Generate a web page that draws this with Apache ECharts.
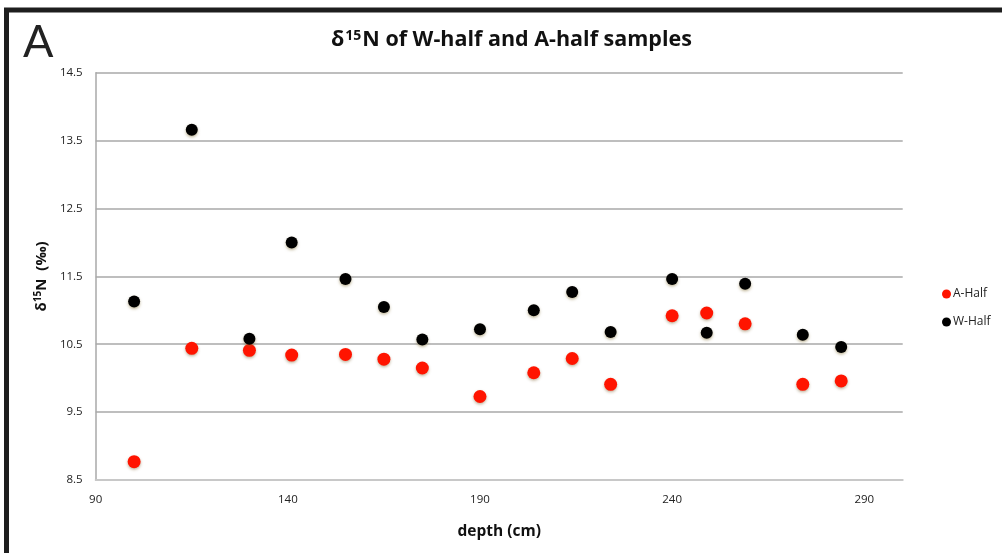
<!DOCTYPE html>
<html>
<head>
<meta charset="utf-8">
<script src="https://cdn.jsdelivr.net/npm/echarts@6/dist/echarts.min.js"></script>
<style>
html,body{margin:0;padding:0;background:#fff;}
#chart{width:1002px;height:553px;}
</style>
</head>
<body>
<div id="chart"></div>
<script>
// depth (cm)
const depths = [100, 115, 130, 141, 155, 165, 175, 190, 204, 214, 224, 240, 249, 259, 274, 284];
// δ15N values (‰)
const aHalf = [8.77, 10.44, 10.41, 10.34, 10.35, 10.28, 10.15, 9.73, 10.08, 10.29, 9.91, 10.92, 10.96, 10.80, 9.91, 9.96];
const wHalf = [11.13, 13.66, 10.58, 12.00, 11.46, 11.05, 10.57, 10.72, 11.00, 11.27, 10.68, 11.46, 10.67, 11.39, 10.64, 10.46];
const seriesNames = ['A-Half', 'W-Half'];
const xTicks = {min: 90, max: 300, interval: 50};
const yTicks = {min: 8.5, max: 14.5, interval: 1};

const FONT = '"Open Sans", Lato, sans-serif';
const chart = echarts.init(document.getElementById('chart'));
const pair = (xs, ys) => xs.map((x, i) => [x, ys[i]]);

chart.setOption({
  animation: false,
  backgroundColor: '#fff',
  title: {
    text: '{a|δ}{s|15}{a|N of W-half and A-half samples}',
    left: 326, top: 24,
    textStyle: {
      rich: {
        a: {fontFamily: FONT, fontWeight: 'bold', fontSize: 21.5, color: '#111'},
        s: {fontFamily: FONT, fontWeight: 'bold', fontSize: 14, color: '#111', verticalAlign: 'top', padding: [0,1,8,1]}
      }
    }
  },
  legend: {
    orient: 'vertical',
    left: 937, top: 283,
    itemWidth: 9, itemHeight: 9, itemGap: 16,
    icon: 'circle',
    textStyle: {fontFamily: FONT, fontSize: 12, color: '#222', padding: [0,0,0,-3]},
    data: seriesNames
  },
  grid: {left: 95.7, right: 99.3, top: 72.7, bottom: 73, containLabel: false},
  xAxis: {
    type: 'value', min: xTicks.min, max: xTicks.max, interval: xTicks.interval,
    name: 'depth (cm)', nameLocation: 'middle', nameGap: 44,
    nameTextStyle: {fontFamily: FONT, fontWeight: 'bold', fontSize: 15.5, color: '#111'},
    axisLine: {show: true, lineStyle: {color: '#c8c8c8', width: 2}},
    axisTick: {show: false},
    splitLine: {show: false},
    axisLabel: {fontFamily: FONT, fontSize: 11.5, color: '#222', margin: 14,
      showMaxLabel: false}
  },
  yAxis: {
    type: 'value', min: yTicks.min, max: yTicks.max, interval: yTicks.interval,
    name: '{a|δ}{s|15}{a|N  (‰)}', nameLocation: 'middle', nameGap: 46, nameRotate: 90,
    nameTextStyle: {
      rich: {
        a: {fontFamily: FONT, fontWeight: 'bold', fontSize: 15, color: '#111'},
        s: {fontFamily: FONT, fontWeight: 'bold', fontSize: 10, color: '#111', verticalAlign: 'top', padding: [0,0,6,0]}
      }
    },
    axisLine: {show: true, lineStyle: {color: '#a8a8a8', width: 1.5}},
    axisTick: {show: false},
    splitLine: {show: true, lineStyle: {color: '#a8a8a8', width: 1.5}},
    axisLabel: {fontFamily: FONT, fontSize: 11.5, color: '#222', margin: 13,
      formatter: v => v.toFixed(1)}
  },
  series: [
    {
      name: seriesNames[0], type: 'scatter', symbol: 'circle', symbolSize: 13,
      data: pair(depths, aHalf),
      itemStyle: {color: '#ff1400', opacity: 1, shadowBlur: 3, shadowOffsetY: 1.5, shadowColor: 'rgba(120,90,40,0.45)'}
    },
    {
      name: seriesNames[1], type: 'scatter', symbol: 'circle', symbolSize: 12,
      data: pair(depths, wHalf),
      itemStyle: {color: '#000', opacity: 1, shadowBlur: 3, shadowOffsetY: 1.5, shadowColor: 'rgba(130,110,50,0.5)'}
    }
  ],
  graphic: [
    {type: 'line', shape: {x1: 4, y1: 10, x2: 1002, y2: 10}, style: {stroke: '#1e1e1e', lineWidth: 5}, z: 100},
    {type: 'line', shape: {x1: 6.5, y1: 8, x2: 6.5, y2: 553}, style: {stroke: '#1e1e1e', lineWidth: 5}, z: 100},
    {type: 'text', left: 23, top: 20, style: {text: 'A', font: 'normal 45px Lato, sans-serif', fill: '#222'}}
  ]
});
</script>
</body>
</html>
